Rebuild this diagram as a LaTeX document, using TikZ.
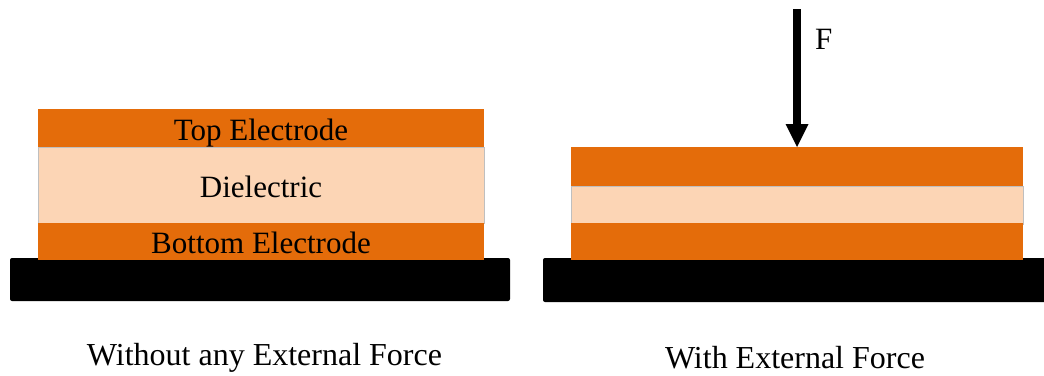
\documentclass[tikz,border=0pt]{standalone}
\usepackage{fontspec}
\setmainfont{Liberation Serif}
\usetikzlibrary{arrows.meta}
\definecolor{electrode}{HTML}{E46C0A}
\definecolor{dielec}{HTML}{FCD5B5}
\definecolor{edgegray}{HTML}{BFBFBF}
\tikzset{
  layer/.style={inner sep=0pt, outer sep=0pt, anchor=north west},
  electrodebox/.style={layer, fill=electrode},
  dielecbox/.style={layer, fill=dielec, draw=edgegray, line width=0.8pt},
  basebox/.style={layer, fill=black, rounded corners=2pt},
  lbl/.style={font=\fontsize{31}{35}\selectfont, anchor=base, inner sep=0pt},
  caption/.style={font=\fontsize{32}{36}\selectfont, anchor=base, inner sep=0pt},
  force/.style={line width=8pt, -{Triangle[width=23pt,length=23pt,line width=0pt]}}
}
\begin{document}
\begin{tikzpicture}[x=1pt,y=-1pt]
\useasboundingbox (0,0) rectangle (1044,375);

% left: capacitor stack at rest
\node[basebox, minimum width=500pt, minimum height=43pt] (lbase) at (10,258) {};
\node[dielecbox, minimum width=446pt, minimum height=76pt] (ldiel) at (38,147) {};
\node[electrodebox, minimum width=446pt, minimum height=38pt] (ltop) at (38,109) {};
\node[electrodebox, minimum width=446pt, minimum height=37pt] (lbot) at (38,223) {};
\node[lbl] (ltoptext) at (261,140) {Top Electrode};
\node[lbl] (ldieltext) at (261,197) {Dielectric};
\node[lbl] (lbottext) at (261,253) {Bottom Electrode};

% right: compressed stack under load
\node[basebox, minimum width=520pt, minimum height=44pt] (rbase) at (543,258) {};
\node[dielecbox, minimum width=452pt, minimum height=38pt] (rdiel) at (571,186) {};
\node[electrodebox, minimum width=452pt, minimum height=39pt] (rtop) at (571,147) {};
\node[electrodebox, minimum width=452pt, minimum height=37pt] (rbot) at (571,223) {};

% applied force
\coordinate (fstart) at (797,9);
\draw[force] (fstart) -- (rtop.north);
\node[lbl, anchor=base west] (flabel) at (815,49) {F};

% captions
\node[caption] (lcap) at (264.5,365) {Without any External Force};
\node[caption] (rcap) at (795,368) {With External Force};
\end{tikzpicture}
\end{document}
